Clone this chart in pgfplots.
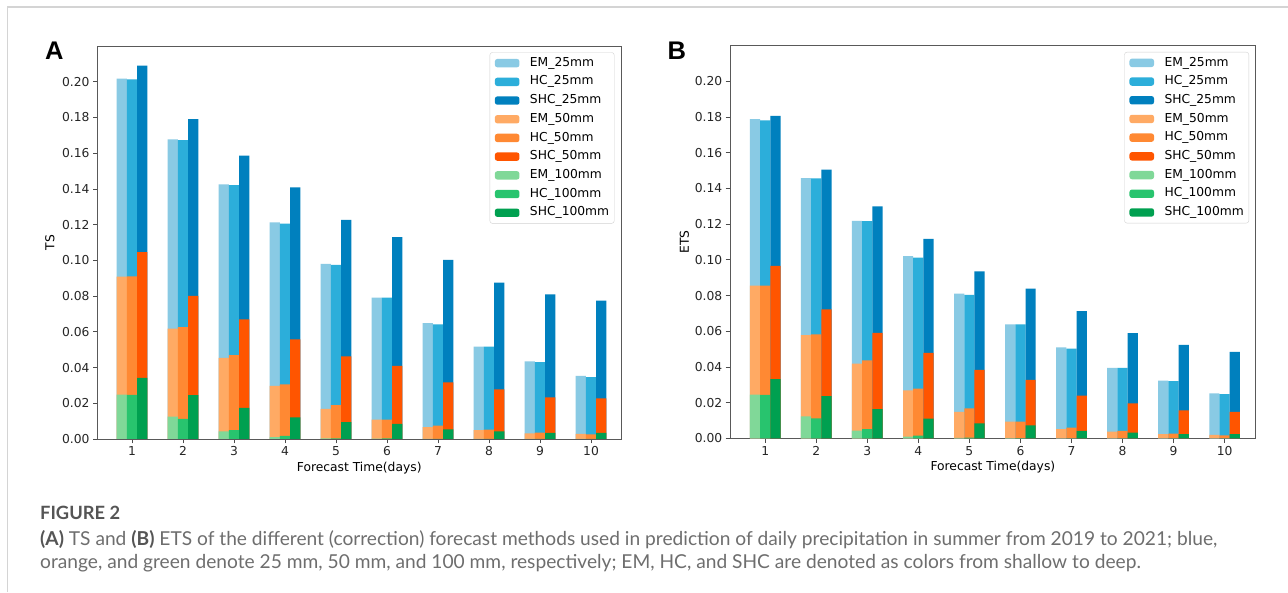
\documentclass[border=0pt]{standalone}
\usepackage{fontspec}
\setmainfont{DejaVu Sans}
\newfontfamily\capfont{Lato}
\newfontfamily\panelfont{Liberation Sans}
\usepackage{pgfplots}
\usepackage{pgfplotstable}
\pgfplotsset{compat=1.18}

\definecolor{emA}{RGB}{137,202,228}
\definecolor{hcA}{RGB}{44,174,218}
\definecolor{shcA}{RGB}{0,128,190}
\definecolor{emB}{RGB}{255,170,100}
\definecolor{hcB}{RGB}{255,137,51}
\definecolor{shcB}{RGB}{255,85,0}
\definecolor{emC}{RGB}{128,216,152}
\definecolor{hcC}{RGB}{40,196,110}
\definecolor{shcC}{RGB}{0,160,80}
\definecolor{capgrey}{RGB}{110,110,110}
\definecolor{capdark}{RGB}{85,85,85}

\pgfplotstableread{
day em25 hc25 shc25 em50 hc50 shc50 em100 hc100 shc100
1 0.2017 0.2013 0.2090 0.0909 0.0910 0.1046 0.0248 0.0247 0.0342
2 0.1677 0.1673 0.1791 0.0618 0.0626 0.0801 0.0125 0.0112 0.0245
3 0.1425 0.1421 0.1587 0.0454 0.0469 0.0670 0.0043 0.0050 0.0174
4 0.1212 0.1206 0.1408 0.0297 0.0306 0.0558 0.0011 0.0017 0.0121
5 0.0980 0.0975 0.1227 0.0168 0.0189 0.0463 0.0004 0.0004 0.0095
6 0.0792 0.0792 0.1130 0.0108 0.0108 0.0409 0.0002 0.0003 0.0084
7 0.0648 0.0642 0.1003 0.0067 0.0075 0.0317 0.0001 0.0001 0.0054
8 0.0517 0.0517 0.0876 0.0049 0.0052 0.0278 0.0000 0.0000 0.0043
9 0.0435 0.0431 0.0810 0.0032 0.0035 0.0233 0.0000 0.0000 0.0034
10 0.0353 0.0347 0.0775 0.0028 0.0026 0.0228 0.0000 0.0000 0.0034
}\tsdata

\pgfplotstableread{
day em25 hc25 shc25 em50 hc50 shc50 em100 hc100 shc100
1 0.1789 0.1781 0.1807 0.0856 0.0856 0.0966 0.0245 0.0243 0.0331
2 0.1458 0.1456 0.1505 0.0578 0.0583 0.0723 0.0123 0.0112 0.0236
3 0.1219 0.1217 0.1299 0.0419 0.0436 0.0591 0.0043 0.0052 0.0163
4 0.1021 0.1013 0.1118 0.0269 0.0279 0.0479 0.0009 0.0015 0.0110
5 0.0811 0.0804 0.0935 0.0148 0.0168 0.0383 0.0003 0.0004 0.0084
6 0.0639 0.0639 0.0839 0.0093 0.0093 0.0327 0.0001 0.0001 0.0073
7 0.0510 0.0503 0.0712 0.0052 0.0060 0.0239 0.0000 0.0000 0.0041
8 0.0394 0.0394 0.0589 0.0037 0.0041 0.0196 0.0000 0.0000 0.0032
9 0.0323 0.0320 0.0523 0.0024 0.0026 0.0157 0.0000 0.0000 0.0024
10 0.0252 0.0247 0.0484 0.0019 0.0017 0.0148 0.0000 0.0000 0.0024
}\etsdata

\newcommand\chartfont{\fontsize{12.3}{14}\selectfont}
\newlength\capw

\pgfplotsset{
  panel/.style={
    scale only axis,
    anchor=south west,
    ymin=0, ymax=0.22,
    xtick={1,...,10},
    ytick={0,0.02,...,0.201},
    yticklabel style={/pgf/number format/.cd, fixed, fixed zerofill, precision=2, assume math mode=true},
    xticklabel style={/pgf/number format/assume math mode=true},
    tick label style={font=\chartfont, text=black!85},
    tick align=outside,
    major tick length=4.3pt,
    tick style={black!70, line width=0.8pt},
    xtick pos=bottom, ytick pos=left,
    axis line style={black!65, line width=0.9pt},
    xlabel={Forecast Time(days)},
    xlabel style={font=\chartfont, at={(axis description cs:0.5,0)}, anchor=center, yshift=-28.7pt},
    ylabel style={font=\chartfont, at={(axis description cs:0,0.5)}, anchor=center},
    legend cell align=left,
    legend style={at={(rel axis cs:1,1)}, anchor=north east, xshift=-6.7pt, yshift=-6.3pt,
      draw=black!18, fill=white, rounded corners=2.5pt, font=\chartfont,
      row sep=7pt, inner xsep=5pt, inner ysep=4.8pt,
      nodes={inner sep=0pt, text height=9pt, text depth=2.7pt},
      /tikz/every odd column/.style={column sep=10.5pt}},
  },
  bars/.style n args={2}{ybar, bar width=0.2, bar shift=#1, fill=#2, draw=none,
    legend image code/.code={\fill[##1] (0pt,-4.2pt) rectangle (24.6pt,4.2pt);}},
}

\begin{document}
\settowidth\capw{\capfont\fontsize{10}{12}\selectfont\textbf{(A)} TS and \textbf{(B)} ETS of the different (correction) forecast methods used in prediction of daily precipitation in summer from 2019 to 2021; blue,}%
\pgfmathsetmacro\capsz{10*1177/\capw}%
\begin{tikzpicture}[x=1pt,y=1pt]
\useasboundingbox (0,0) rectangle (1288,592);
\fill[white] (0,0) rectangle (1288,592);
\draw[black!17, line width=1.6pt] (7.3,0) -- (7.3,584.7) -- (1288,584.7);

% Panel A
\begin{axis}[panel, at={(97.3pt,153pt)}, width=523.8pt, height=393pt,
  xmin=0.32, xmax=10.59, ylabel={TS}, ylabel style={yshift=47.5pt}]
\addplot[bars={-0.2}{emA}] table[x=day,y=em25]{\tsdata};
\addlegendentry{EM\_25mm}
\addplot[bars={0}{hcA}] table[x=day,y=hc25]{\tsdata};
\addlegendentry{HC\_25mm}
\addplot[bars={0.2}{shcA}] table[x=day,y=shc25]{\tsdata};
\addlegendentry{SHC\_25mm}
\addplot[bars={-0.2}{emB}] table[x=day,y=em50]{\tsdata};
\addlegendentry{EM\_50mm}
\addplot[bars={0}{hcB}] table[x=day,y=hc50]{\tsdata};
\addlegendentry{HC\_50mm}
\addplot[bars={0.2}{shcB}] table[x=day,y=shc50]{\tsdata};
\addlegendentry{SHC\_50mm}
\addplot[bars={-0.2}{emC}] table[x=day,y=em100]{\tsdata};
\addlegendentry{EM\_100mm}
\addplot[bars={0}{hcC}] table[x=day,y=hc100]{\tsdata};
\addlegendentry{HC\_100mm}
\addplot[bars={0.2}{shcC}] table[x=day,y=shc100]{\tsdata};
\addlegendentry{SHC\_100mm}
\end{axis}

% Panel B
\begin{axis}[panel, at={(730pt,153.7pt)}, width=525.7pt, height=392.6pt,
  xmin=0.31, xmax=10.61, ylabel={ETS}, ylabel style={yshift=45.5pt}]
\addplot[bars={-0.2}{emA}] table[x=day,y=em25]{\etsdata};
\addlegendentry{EM\_25mm}
\addplot[bars={0}{hcA}] table[x=day,y=hc25]{\etsdata};
\addlegendentry{HC\_25mm}
\addplot[bars={0.2}{shcA}] table[x=day,y=shc25]{\etsdata};
\addlegendentry{SHC\_25mm}
\addplot[bars={-0.2}{emB}] table[x=day,y=em50]{\etsdata};
\addlegendentry{EM\_50mm}
\addplot[bars={0}{hcB}] table[x=day,y=hc50]{\etsdata};
\addlegendentry{HC\_50mm}
\addplot[bars={0.2}{shcB}] table[x=day,y=shc50]{\etsdata};
\addlegendentry{SHC\_50mm}
\addplot[bars={-0.2}{emC}] table[x=day,y=em100]{\etsdata};
\addlegendentry{EM\_100mm}
\addplot[bars={0}{hcC}] table[x=day,y=hc100]{\etsdata};
\addlegendentry{HC\_100mm}
\addplot[bars={0.2}{shcC}] table[x=day,y=shc100]{\etsdata};
\addlegendentry{SHC\_100mm}
\end{axis}

% panel letters
\node[anchor=base west, inner sep=0pt] at (45,532) {\panelfont\bfseries\fontsize{25.5}{26}\selectfont A};
\node[anchor=base west, inner sep=0pt] at (667.3,532.7) {\panelfont\bfseries\fontsize{25.5}{26}\selectfont B};

% caption
\node[anchor=base west, inner sep=0pt, text=capdark] at (40,73) {\capfont\bfseries\fontsize{18.3}{20}\selectfont FIGURE 2};
\node[anchor=base west, inner sep=0pt, text=capgrey] at (40,46.5) {\capfont\fontsize{\capsz}{\capsz}\selectfont\textbf{\color{capdark}(A)} TS and \textbf{\color{capdark}(B)} ETS of the different (correction) forecast methods used in prediction of daily precipitation in summer from 2019 to 2021; blue,};
\node[anchor=base west, inner sep=0pt, text=capgrey] at (40,24) {\capfont\fontsize{\capsz}{\capsz}\selectfont orange, and green denote 25 mm, 50 mm, and 100 mm, respectively; EM, HC, and SHC are denoted as colors from shallow to deep.};
\end{tikzpicture}
\end{document}
